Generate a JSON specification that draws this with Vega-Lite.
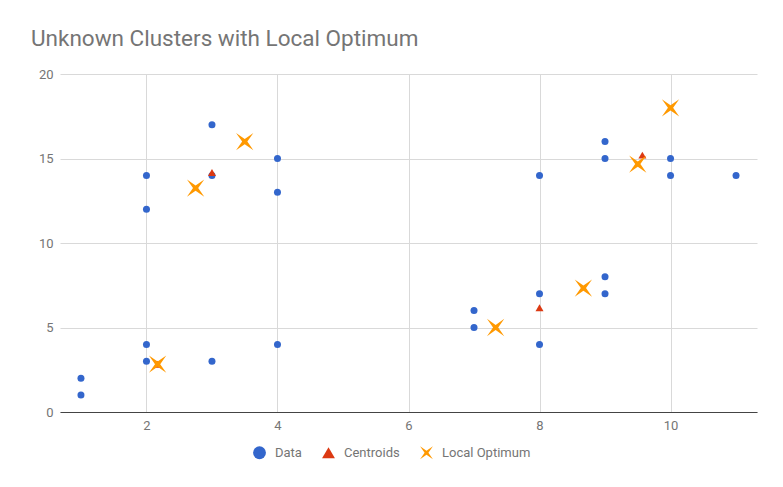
{
  "$schema": "https://vega.github.io/schema/vega-lite/v6.json",
  "width": 697,
  "height": 338,
  "autosize": "none",
  "padding": {"left": 60, "top": 74, "right": 26, "bottom": 75},
  "background": "white",
  "title": {
    "text": "Unknown Clusters with Local Optimum",
    "anchor": "start",
    "frame": "group",
    "dx": -29,
    "offset": 0,
    "baseline": "alphabetic",
    "font": "Roboto",
    "fontSize": 22.5,
    "fontWeight": "normal",
    "color": "#757575"
  },
  "data": {
    "values": [
      {"x": 1, "y": 1, "series": "Data"},
      {"x": 1, "y": 2, "series": "Data"},
      {"x": 2, "y": 3, "series": "Data"},
      {"x": 2, "y": 4, "series": "Data"},
      {"x": 3, "y": 3, "series": "Data"},
      {"x": 4, "y": 4, "series": "Data"},
      {"x": 2, "y": 12, "series": "Data"},
      {"x": 2, "y": 14, "series": "Data"},
      {"x": 3, "y": 14, "series": "Data"},
      {"x": 3, "y": 17, "series": "Data"},
      {"x": 4, "y": 13, "series": "Data"},
      {"x": 4, "y": 15, "series": "Data"},
      {"x": 7, "y": 5, "series": "Data"},
      {"x": 7, "y": 6, "series": "Data"},
      {"x": 8, "y": 4, "series": "Data"},
      {"x": 8, "y": 7, "series": "Data"},
      {"x": 9, "y": 7, "series": "Data"},
      {"x": 9, "y": 8, "series": "Data"},
      {"x": 8, "y": 14, "series": "Data"},
      {"x": 9, "y": 15, "series": "Data"},
      {"x": 9, "y": 16, "series": "Data"},
      {"x": 10, "y": 14, "series": "Data"},
      {"x": 10, "y": 15, "series": "Data"},
      {"x": 11, "y": 14, "series": "Data"},
      {"x": 2.17, "y": 2.83, "series": "Centroids"},
      {"x": 3, "y": 14.17, "series": "Centroids"},
      {"x": 8, "y": 6.17, "series": "Centroids"},
      {"x": 9.57, "y": 15.2, "series": "Centroids"},
      {"x": 2.17, "y": 2.83, "series": "Local Optimum"},
      {"x": 2.75, "y": 13.25, "series": "Local Optimum"},
      {"x": 3.5, "y": 16, "series": "Local Optimum"},
      {"x": 7.33, "y": 5, "series": "Local Optimum"},
      {"x": 8.67, "y": 7.33, "series": "Local Optimum"},
      {"x": 9.5, "y": 14.67, "series": "Local Optimum"},
      {"x": 10, "y": 18, "series": "Local Optimum"}
    ]
  },
  "encoding": {
    "x": {
      "field": "x",
      "type": "quantitative",
      "scale": {"domain": [0.68, 11.32], "nice": false, "zero": false},
      "axis": {
        "values": [2, 4, 6, 8, 10],
        "title": null,
        "grid": true,
        "ticks": false,
        "domain": true,
        "domainColor": "#444444",
        "domainWidth": 1,
        "labelPadding": 7
      }
    },
    "y": {
      "field": "y",
      "type": "quantitative",
      "scale": {"domain": [0, 20], "nice": false},
      "axis": {
        "values": [0, 5, 10, 15, 20],
        "title": null,
        "grid": true,
        "ticks": false,
        "domain": false,
        "labelPadding": 7
      }
    },
    "color": {
      "field": "series",
      "type": "nominal",
      "scale": {
        "domain": ["Data", "Centroids", "Local Optimum"],
        "range": ["#3366cc", "#dc3912", "#ff9900"]
      },
      "legend": {
        "title": null,
        "orient": "none",
        "direction": "horizontal",
        "legendX": 193,
        "legendY": 372
      }
    },
    "shape": {
      "field": "series",
      "type": "nominal",
      "scale": {
        "domain": ["Data", "Centroids", "Local Optimum"],
        "range": ["circle", "triangle-up", "M-1,-1L-0.3,0L-1,1L0,0.3L1,1L0.3,0L1,-1L0,-0.3Z"]
      },
      "legend": {
        "title": null,
        "orient": "none",
        "direction": "horizontal",
        "legendX": 193,
        "legendY": 372
      }
    }
  },
  "layer": [
    {
      "transform": [{"filter": "datum.series === 'Data'"}],
      "mark": {"type": "point", "filled": true, "opacity": 1, "size": 49, "clip": false}
    },
    {
      "transform": [{"filter": "datum.series === 'Centroids'"}],
      "mark": {"type": "point", "filled": true, "opacity": 1, "size": 64, "clip": false}
    },
    {
      "transform": [{"filter": "datum.series === 'Local Optimum'"}],
      "mark": {"type": "point", "filled": true, "opacity": 1, "size": 300, "clip": false}
    }
  ],
  "config": {
    "view": {"stroke": null},
    "axis": {
      "gridColor": "#d9d9d9",
      "gridWidth": 1,
      "labelColor": "#757575",
      "labelFont": "Roboto",
      "labelFontSize": 13
    },
    "legend": {
      "labelColor": "#757575",
      "labelFont": "Roboto",
      "labelFontSize": 13,
      "symbolSize": 165,
      "labelOffset": 9,
      "columnPadding": 20,
      "symbolStrokeWidth": 0
    }
  }
}
